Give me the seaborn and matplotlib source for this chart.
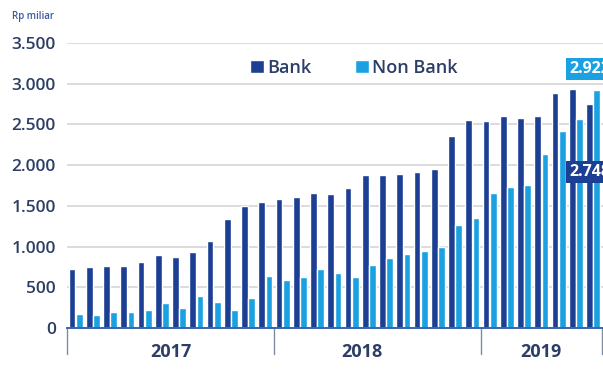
import numpy as np
import pandas as pd
import matplotlib
matplotlib.use("Agg")
import matplotlib.pyplot as plt
import matplotlib.transforms as mtransforms
import seaborn as sns

# Monthly financing outstanding, Jan 2017 - Jul 2019 (Rp miliar)
years = [2017, 2018, 2019]
months_per_year = [12, 12, 7]
bank = [720, 745, 761, 761, 806, 896, 875, 929, 1071, 1334, 1497, 1550,
        1579, 1603, 1652, 1640, 1714, 1877, 1877, 1890, 1918, 1947, 2356, 2552,
        2540, 2601, 2581, 2605, 2892, 2932, 2748]
non_bank = [172, 160, 200, 200, 221, 303, 241, 393, 315, 221, 364, 638,
            589, 630, 724, 679, 630, 773, 863, 908, 949, 998, 1264, 1346,
            1660, 1726, 1755, 2131, 2417, 2564, 2922]
y_ticks = [0, 500, 1000, 1500, 2000, 2500, 3000, 3500]
series_names = ["Bank", "Non Bank"]

months = [f"{y}-{m:02d}" for y, n in zip(years, months_per_year) for m in range(1, n + 1)]

df = pd.DataFrame({
    "bulan": months * 2,
    "nilai": bank + non_bank,
    "seri": [series_names[0]] * len(bank) + [series_names[1]] * len(non_bank),
})

DARK = "#1c3f94"
LIGHT = "#1ba1e2"
TEXT = "#2c3e66"

sns.set_theme(style="white")
plt.rcParams["font.family"] = ["Open Sans", "DejaVu Sans"]

W, H = 603, 370
fig = plt.figure(figsize=(W / 100, H / 100), dpi=100)
ax = fig.add_axes([67 / W, 42 / H, 1 - 67 / W, (327 - 42) / H])

sns.barplot(data=df, x="bulan", y="nilai", hue="seri", order=months,
            hue_order=series_names, palette=[DARK, LIGHT], width=0.84, gap=0.06,
            saturation=1, ax=ax)

n = len(months)
slot_px = (601.75 - 67) / n
ax.set_xlim(-0.5, n - 0.5 + (W - 601.75) / slot_px)
ax.set_ylim(0, 3500)

# grid
ax.set_yticks(y_ticks)
ax.set_yticklabels([f"{v:,}".replace(",", ".") for v in y_ticks])
ax.yaxis.grid(True, color="#d9d9d9", linewidth=1.3)
ax.set_axisbelow(True)
ax.tick_params(axis="y", length=0, pad=8, labelsize=12.5, labelcolor=TEXT)
for t in ax.get_yticklabels():
    t.set_fontweight("semibold")

for side in ["left", "right", "top"]:
    ax.spines[side].set_visible(False)
ax.spines["bottom"].set_color("#3b64ad")
ax.spines["bottom"].set_linewidth(1.4)

# month boundary ticks and longer year separators
bounds = np.arange(n + 1) - 0.5
ax.set_xticks(bounds)
ax.set_xticklabels([])
ax.tick_params(axis="x", length=4, width=1, color="#7f8aa3", direction="out")
year_edges = np.cumsum([0] + months_per_year) - 0.5
trans = mtransforms.blended_transform_factory(ax.transData, ax.transAxes)
for xe in year_edges:
    ax.plot([xe, xe], [0, -26 / 285], transform=trans, color="#7f8aa3",
            linewidth=1, clip_on=False)

year_pos = [5.5, 16.6, 27.0]
for yr, xp in zip(years, year_pos):
    ax.text(xp, -24 / 285, str(yr), transform=trans, ha="center", va="center",
            fontsize=13, fontweight="bold", color=TEXT)

ax.set_xlabel("")
ax.set_ylabel("")

fig.text(12 / W, 1 - 17 / H, "Rp miliar", fontsize=7, color="#3a5aa0",
         va="center", ha="left", fontweight="semibold")

sns.move_legend(ax, loc="center", bbox_to_anchor=(354 / W, 1 - 68 / H),
                bbox_transform=fig.transFigure, ncol=2, frameon=False,
                title=None, handlelength=0.75, handleheight=0.75,
                handletextpad=0.2, columnspacing=2.4, fontsize=13)
for t in ax.get_legend().get_texts():
    t.set_color(TEXT)
    t.set_fontweight("semibold")

# value callouts for the latest month
last = n - 1
ax.text(last - 1.4, non_bank[-1] + 256, f"{non_bank[-1]:,}".replace(",", "."),
        ha="left", va="center", color="white", fontsize=11.5, fontweight="bold",
        bbox=dict(boxstyle="square,pad=0.2", fc=LIGHT, ec="none"), clip_on=False)
ax.text(last - 1.4, bank[-1] - 834, f"{bank[-1]:,}".replace(",", "."),
        ha="left", va="center", color="white", fontsize=11.5, fontweight="bold",
        bbox=dict(boxstyle="square,pad=0.2", fc=DARK, ec="none"), clip_on=False)

fig.savefig("out.png", dpi=100, facecolor="white")
